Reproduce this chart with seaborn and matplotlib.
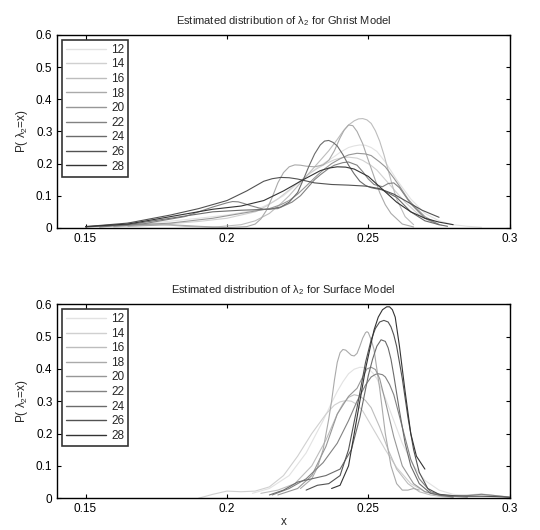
import pandas as pd
import matplotlib
matplotlib.use("Agg")
import matplotlib.pyplot as plt
import seaborn as sns

sns.set_style("ticks")
plt.rcParams['font.family'] = ['Liberation Sans', 'DejaVu Sans']
plt.rcParams['mathtext.fontset'] = 'custom'
plt.rcParams['mathtext.rm'] = 'Liberation Sans'
plt.rcParams['mathtext.it'] = 'Liberation Sans'

sizes = ['12', '14', '16', '18', '20', '22', '24', '26', '28']
grays = ['#e2e2e2', '#d0d0d0', '#bdbdbd', '#aaaaaa', '#979797', '#828282', '#6b6b6b', '#525252', '#333333']

# Ghrist model curves
g12_x = [0.150, 0.170, 0.190, 0.200, 0.210, 0.215, 0.220, 0.224, 0.228, 0.232, 0.235, 0.238, 0.240, 0.243, 0.245, 0.247, 0.249, 0.251, 0.253, 0.256, 0.260, 0.265, 0.270, 0.275, 0.280, 0.285, 0.290]
g12_y = [0.003, 0.012, 0.030, 0.040, 0.055, 0.075, 0.100, 0.130, 0.160, 0.188, 0.205, 0.222, 0.235, 0.250, 0.255, 0.258, 0.257, 0.250, 0.238, 0.205, 0.150, 0.090, 0.045, 0.022, 0.010, 0.005, 0.002]
g14_x = [0.160, 0.175, 0.190, 0.200, 0.210, 0.214, 0.218, 0.222, 0.225, 0.229, 0.232, 0.235, 0.238, 0.241, 0.243, 0.246, 0.248, 0.251, 0.253, 0.256, 0.258, 0.263, 0.268, 0.272, 0.276]
g14_y = [0.003, 0.010, 0.020, 0.030, 0.050, 0.068, 0.090, 0.118, 0.140, 0.168, 0.185, 0.200, 0.212, 0.219, 0.220, 0.217, 0.210, 0.194, 0.180, 0.150, 0.130, 0.080, 0.040, 0.020, 0.008]
g16_x = [0.165, 0.175, 0.185, 0.195, 0.205, 0.210, 0.215, 0.219, 0.222, 0.226, 0.230, 0.233, 0.236, 0.239, 0.241, 0.243, 0.245, 0.2465, 0.248, 0.2495, 0.251, 0.2525, 0.254, 0.2555, 0.257, 0.2585, 0.260, 0.263, 0.266]
g16_y = [0.015, 0.012, 0.005, 0.002, 0.010, 0.022, 0.045, 0.075, 0.100, 0.140, 0.180, 0.210, 0.240, 0.275, 0.300, 0.320, 0.333, 0.339, 0.340, 0.336, 0.325, 0.302, 0.270, 0.228, 0.180, 0.132, 0.090, 0.035, 0.010]
g18_x = [0.165, 0.180, 0.190, 0.200, 0.207, 0.210, 0.212, 0.214, 0.216, 0.218, 0.220, 0.222, 0.224, 0.226, 0.228, 0.231, 0.234, 0.236, 0.238, 0.240, 0.2415, 0.243, 0.2445, 0.246, 0.248, 0.250, 0.252, 0.254, 0.256, 0.258, 0.262, 0.266]
g18_y = [0.005, 0.010, 0.005, 0.001, 0.004, 0.012, 0.028, 0.055, 0.095, 0.140, 0.172, 0.190, 0.196, 0.195, 0.192, 0.190, 0.196, 0.210, 0.240, 0.280, 0.305, 0.320, 0.318, 0.300, 0.262, 0.210, 0.160, 0.110, 0.072, 0.045, 0.012, 0.003]
g20_x = [0.160, 0.180, 0.195, 0.205, 0.215, 0.219, 0.222, 0.225, 0.228, 0.231, 0.234, 0.237, 0.240, 0.243, 0.246, 0.249, 0.251, 0.254, 0.256, 0.259, 0.261, 0.264, 0.266, 0.270, 0.275]
g20_y = [0.005, 0.015, 0.030, 0.045, 0.060, 0.072, 0.085, 0.105, 0.130, 0.156, 0.180, 0.200, 0.215, 0.227, 0.232, 0.230, 0.225, 0.205, 0.190, 0.155, 0.130, 0.090, 0.070, 0.035, 0.010]
g22_x = [0.155, 0.170, 0.185, 0.195, 0.200, 0.202, 0.204, 0.206, 0.208, 0.213, 0.218, 0.223, 0.226, 0.228, 0.231, 0.233, 0.236, 0.238, 0.241, 0.243, 0.246, 0.248, 0.250, 0.252, 0.255, 0.257, 0.259, 0.261, 0.263, 0.265, 0.270, 0.275]
g22_y = [0.003, 0.012, 0.035, 0.065, 0.078, 0.082, 0.081, 0.076, 0.070, 0.058, 0.060, 0.080, 0.100, 0.120, 0.150, 0.165, 0.185, 0.195, 0.203, 0.205, 0.195, 0.175, 0.152, 0.135, 0.128, 0.138, 0.140, 0.125, 0.100, 0.075, 0.030, 0.010]
g24_x = [0.150, 0.165, 0.180, 0.195, 0.205, 0.215, 0.219, 0.222, 0.225, 0.227, 0.229, 0.231, 0.233, 0.2345, 0.236, 0.2375, 0.239, 0.241, 0.243, 0.245, 0.247, 0.249, 0.251, 0.255, 0.260, 0.265, 0.270, 0.275, 0.278]
g24_y = [0.003, 0.010, 0.030, 0.050, 0.055, 0.058, 0.065, 0.080, 0.110, 0.150, 0.192, 0.230, 0.258, 0.270, 0.272, 0.266, 0.255, 0.228, 0.195, 0.168, 0.145, 0.132, 0.125, 0.118, 0.095, 0.050, 0.022, 0.010, 0.005]
g26_x = [0.150, 0.165, 0.180, 0.190, 0.200, 0.207, 0.213, 0.216, 0.219, 0.222, 0.225, 0.231, 0.237, 0.243, 0.249, 0.254, 0.259, 0.264, 0.269, 0.275]
g26_y = [0.004, 0.015, 0.040, 0.060, 0.085, 0.115, 0.145, 0.153, 0.157, 0.156, 0.152, 0.140, 0.135, 0.133, 0.130, 0.122, 0.105, 0.080, 0.055, 0.033]
g28_x = [0.150, 0.165, 0.180, 0.195, 0.205, 0.213, 0.220, 0.227, 0.233, 0.236, 0.239, 0.242, 0.245, 0.250, 0.255, 0.260, 0.265, 0.270, 0.275, 0.280]
g28_y = [0.004, 0.012, 0.035, 0.058, 0.068, 0.085, 0.115, 0.150, 0.178, 0.186, 0.190, 0.189, 0.183, 0.160, 0.120, 0.080, 0.050, 0.030, 0.018, 0.010]

# Surface model curves
s12_x = [0.209, 0.215, 0.222, 0.228, 0.234, 0.237, 0.239, 0.241, 0.243, 0.245, 0.247, 0.249, 0.250, 0.2515, 0.253, 0.256, 0.259, 0.262, 0.266, 0.270, 0.275, 0.280, 0.285, 0.290, 0.295, 0.300]
s12_y = [0.015, 0.030, 0.070, 0.140, 0.240, 0.295, 0.330, 0.360, 0.385, 0.399, 0.405, 0.404, 0.400, 0.388, 0.370, 0.310, 0.240, 0.170, 0.100, 0.055, 0.025, 0.012, 0.008, 0.010, 0.008, 0.004]
s14_x = [0.190, 0.195, 0.200, 0.205, 0.210, 0.215, 0.220, 0.225, 0.230, 0.235, 0.238, 0.240, 0.242, 0.244, 0.246, 0.248, 0.252, 0.256, 0.260, 0.265, 0.270, 0.275, 0.280, 0.285, 0.290, 0.295, 0.300]
s14_y = [0.000, 0.012, 0.022, 0.020, 0.022, 0.035, 0.070, 0.130, 0.200, 0.260, 0.288, 0.298, 0.302, 0.300, 0.290, 0.270, 0.210, 0.150, 0.095, 0.045, 0.020, 0.010, 0.008, 0.010, 0.013, 0.008, 0.003]
s16_x = [0.212, 0.218, 0.224, 0.230, 0.235, 0.239, 0.241, 0.243, 0.245, 0.247, 0.249, 0.251, 0.254, 0.257, 0.260, 0.264, 0.268, 0.272, 0.276, 0.280]
s16_y = [0.015, 0.025, 0.045, 0.100, 0.180, 0.260, 0.292, 0.312, 0.320, 0.316, 0.302, 0.280, 0.220, 0.150, 0.090, 0.045, 0.020, 0.010, 0.005, 0.003]
s18_x = [0.226, 0.230, 0.232, 0.234, 0.236, 0.237, 0.238, 0.239, 0.240, 0.241, 0.242, 0.243, 0.244, 0.245, 0.246, 0.247, 0.248, 0.249, 0.2495, 0.250, 0.251, 0.252, 0.253, 0.254, 0.255, 0.256, 0.258, 0.260, 0.262, 0.264, 0.266, 0.268]
s18_y = [0.030, 0.060, 0.095, 0.150, 0.245, 0.300, 0.365, 0.420, 0.450, 0.460, 0.458, 0.450, 0.442, 0.440, 0.448, 0.470, 0.495, 0.512, 0.515, 0.512, 0.490, 0.460, 0.400, 0.340, 0.270, 0.200, 0.100, 0.045, 0.025, 0.025, 0.030, 0.025]
s20_x = [0.218, 0.225, 0.230, 0.235, 0.239, 0.243, 0.246, 0.248, 0.2495, 0.251, 0.2525, 0.254, 0.256, 0.259, 0.262, 0.266, 0.270, 0.275, 0.280, 0.285]
s20_y = [0.010, 0.030, 0.070, 0.160, 0.260, 0.315, 0.340, 0.375, 0.400, 0.405, 0.398, 0.370, 0.300, 0.190, 0.100, 0.045, 0.020, 0.010, 0.006, 0.003]
s22_x = [0.216, 0.222, 0.228, 0.234, 0.239, 0.243, 0.246, 0.249, 0.251, 0.2525, 0.2535, 0.255, 0.256, 0.2575, 0.259, 0.262, 0.265, 0.268, 0.272, 0.276, 0.280, 0.285, 0.290, 0.295, 0.300]
s22_y = [0.010, 0.030, 0.060, 0.110, 0.170, 0.240, 0.300, 0.350, 0.375, 0.383, 0.385, 0.382, 0.375, 0.352, 0.320, 0.220, 0.120, 0.060, 0.020, 0.010, 0.006, 0.008, 0.012, 0.008, 0.003]
s24_x = [0.215, 0.220, 0.225, 0.230, 0.235, 0.240, 0.244, 0.247, 0.250, 0.2515, 0.253, 0.2545, 0.256, 0.257, 0.258, 0.259, 0.261, 0.263, 0.265, 0.268, 0.272, 0.276, 0.280]
s24_y = [0.010, 0.025, 0.050, 0.060, 0.070, 0.090, 0.150, 0.250, 0.380, 0.430, 0.470, 0.490, 0.485, 0.465, 0.430, 0.380, 0.270, 0.170, 0.100, 0.045, 0.015, 0.008, 0.004]
s26_x = [0.228, 0.232, 0.236, 0.240, 0.243, 0.246, 0.249, 0.251, 0.2525, 0.254, 0.2555, 0.257, 0.258, 0.259, 0.260, 0.262, 0.264, 0.266, 0.268, 0.271, 0.275, 0.280, 0.285, 0.290, 0.295, 0.300]
s26_y = [0.025, 0.040, 0.045, 0.070, 0.150, 0.280, 0.420, 0.490, 0.525, 0.545, 0.550, 0.545, 0.530, 0.505, 0.470, 0.370, 0.250, 0.150, 0.080, 0.030, 0.012, 0.008, 0.006, 0.006, 0.005, 0.003]
s28_x = [0.237, 0.240, 0.243, 0.246, 0.249, 0.252, 0.2535, 0.255, 0.2565, 0.2575, 0.2585, 0.2595, 0.261, 0.263, 0.265, 0.267, 0.270]
s28_y = [0.030, 0.040, 0.100, 0.250, 0.400, 0.520, 0.560, 0.583, 0.592, 0.592, 0.583, 0.560, 0.470, 0.330, 0.200, 0.130, 0.090]

ghrist = [(g12_x, g12_y), (g14_x, g14_y), (g16_x, g16_y), (g18_x, g18_y), (g20_x, g20_y),
          (g22_x, g22_y), (g24_x, g24_y), (g26_x, g26_y), (g28_x, g28_y)]
surface = [(s12_x, s12_y), (s14_x, s14_y), (s16_x, s16_y), (s18_x, s18_y), (s20_x, s20_y),
           (s22_x, s22_y), (s24_x, s24_y), (s26_x, s26_y), (s28_x, s28_y)]


def to_frame(curves):
    rows = []
    for name, (xs, ys) in zip(sizes, curves):
        for x, y in zip(xs, ys):
            rows.append({'x': x, 'y': y, 'n': name})
    return pd.DataFrame(rows)


fig = plt.figure(figsize=(5.4, 5.3), dpi=100)
ax1 = fig.add_axes([0.106, 0.570, 0.838, 0.364])
ax2 = fig.add_axes([0.106, 0.060, 0.838, 0.366])

panels = [(ax1, ghrist, 'Ghrist'), (ax2, surface, 'Surface')]
for ax, curves, model in panels:
    df = to_frame(curves)
    sns.lineplot(data=df, x='x', y='y', hue='n', hue_order=sizes, palette=grays,
                 estimator=None, sort=True, linewidth=0.8, ax=ax)
    ax.set_xlim(0.14, 0.3)
    ax.set_ylim(0, 0.6)
    ax.set_xticks([0.15, 0.2, 0.25, 0.3])
    ax.set_xticklabels(['0.15', '0.2', '0.25', '0.3'])
    ax.set_yticks([0, 0.1, 0.2, 0.3, 0.4, 0.5, 0.6])
    ax.set_yticklabels(['0', '0.1', '0.2', '0.3', '0.4', '0.5', '0.6'])
    ax.tick_params(direction='in', length=3, width=0.8, labelsize=8.5,
                   top=True, right=True, colors='black')
    for sp in ax.spines.values():
        sp.set_visible(True)
        sp.set_linewidth(1.0)
        sp.set_color('black')
    ax.set_title(r'Estimated distribution of $\lambda_2$ for %s Model' % model,
                 fontsize=8, pad=8)
    ax.set_ylabel(r'P( $\lambda_2$=x)', fontsize=8.5, labelpad=4)
    ax.set_xlabel('')
    handles, labels = ax.get_legend_handles_labels()
    leg = ax.legend(handles, labels, loc='upper left', fontsize=8.5, frameon=True,
                    fancybox=False, edgecolor='black', handlelength=3.4,
                    handletextpad=0.4, labelspacing=0.22, borderpad=0.35,
                    borderaxespad=0.4)
    leg.get_frame().set_linewidth(1.2)
    for line in leg.get_lines():
        line.set_linewidth(1.0)

ax2.set_xlabel('x', fontsize=8.5, labelpad=1)

fig.savefig('out.png', dpi=100)
